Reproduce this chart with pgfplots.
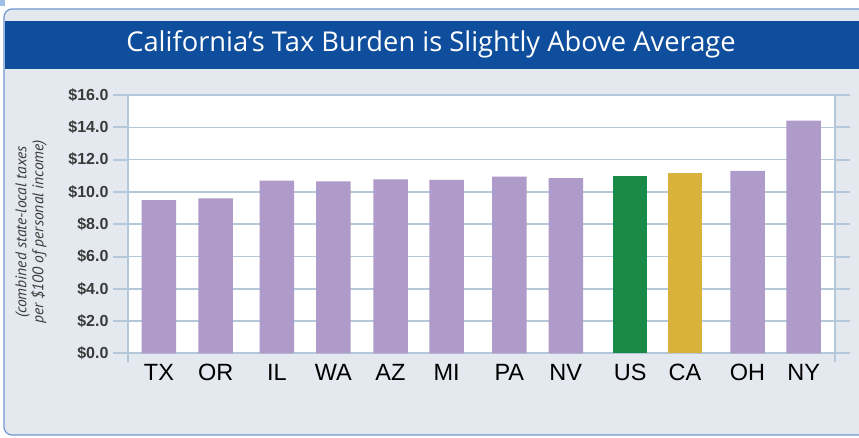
\documentclass[border=0pt]{standalone}
\usepackage{pgfplots}
\pgfplotsset{compat=1.18}
\usetikzlibrary{backgrounds}
\usepackage{fontspec}
\setmainfont{Liberation Sans}
\newfontfamily\titlefont{Open Sans}
\newfontfamily\labelfont{PT Sans}
\definecolor{panel}{HTML}{E3E9EE}
\definecolor{panelborder}{HTML}{6F98D0}
\definecolor{titlebar}{HTML}{0E4E9C}
\definecolor{gridc}{HTML}{B5C8D9}
\definecolor{purp}{HTML}{AE9BC9}
\definecolor{usg}{HTML}{1A8A48}
\definecolor{cay}{HTML}{D8B23A}
\definecolor{ticktext}{HTML}{3A3A3A}
\definecolor{cornerc}{HTML}{9EC0E6}
\begin{document}
\begin{tikzpicture}[x=1pt,y=1pt]
\begin{axis}[
  scale only axis, width=707pt, height=258.5pt,
  xmin=128, xmax=835, ymin=0, ymax=16,
  ybar, bar width=34.5,
  axis background/.style={fill=white},
  axis line style={gridc, line width=2pt},
  ymajorgrids, grid style={gridc, line width=1.6pt},
  ytick={0,2,...,16},
  yticklabel={\$\pgfmathprintnumber[fixed,fixed zerofill,precision=1]{\tick}},
  /pgf/number format/assume math mode=true,
  yticklabel style={font=\bfseries\fontsize{16}{18}\selectfont, text=ticktext, xshift=-1pt},
  ytick style={gridc, line width=2pt},
  tick align=outside, major tick length=15pt,
  xtick={159,215.7,276.8,333.3,390.5,446.7,509.3,565.8,630.2,685,747.5,803.7},
  xticklabels={TX,OR,IL,WA,AZ,MI,PA,NV,US,CA,OH,NY},
  xtick style={draw=none},
  xticklabel style={font=\fontsize{23.5}{26}\selectfont, text=black, anchor=north, text height=16.8pt, text depth=0pt, yshift=8pt},
  clip=false,
]
\addplot[fill=purp, draw=none, bar shift=0pt] coordinates {
(159,9.5) (215.7,9.6) (276.8,10.7) (333.3,10.65) (390.5,10.78) (446.7,10.75) (509.3,10.95) (565.8,10.85) (747.5,11.3) (803.7,14.42)};
\addplot[fill=usg, draw=none, bar shift=0pt] coordinates {(630.2,11.0)};
\addplot[fill=cay, draw=none, bar shift=0pt] coordinates {(685,11.15)};
\draw[gridc, line width=2pt] (axis cs:128,0) -- (axis cs:128,-0.55);
\draw[gridc, line width=2pt] (axis cs:835,0) -- (axis cs:835,-0.55);
\coordinate (O) at (axis cs:128,0);
\end{axis}
\begin{scope}[on background layer, shift={(O)}, shift={(-128,-84.5)}]
\clip (0,0) rectangle (859,438);
\fill[white] (0,0) rectangle (859,438);
\fill[cornerc] (0,432) rectangle (5,438);
\draw[panelborder, line width=1.2pt, fill=panel, rounded corners=8pt] (4,3) rectangle (880,429);
\fill[titlebar] (4.6,369) rectangle (880,416.5);
\node[text=white, font=\titlefont\fontsize{27.3}{32}\selectfont] at (431,394) {California’s Tax Burden is Slightly Above Average};
\node[rotate=90, align=center, text=ticktext, font=\labelfont\itshape\fontsize{15.5}{17}\selectfont] at (31,206) {(combined state-local taxes\\per \$100 of personal income)};
\end{scope}
\pgfresetboundingbox
\path[use as bounding box, shift={(O)}, shift={(-128,-84.5)}] (0,0) rectangle (859,438);
\end{tikzpicture}
\end{document}
